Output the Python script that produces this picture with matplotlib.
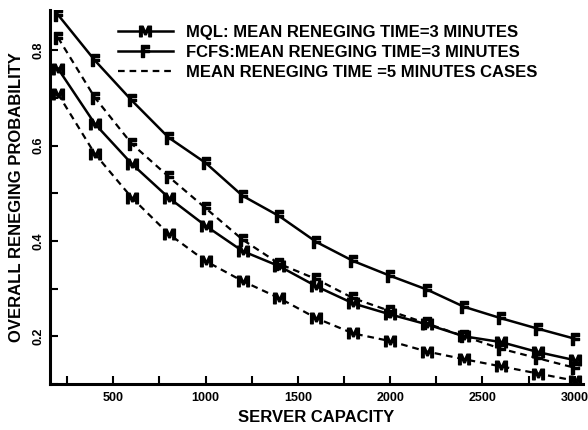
import numpy as np
import matplotlib.pyplot as plt
from matplotlib.lines import Line2D
from matplotlib.ticker import MultipleLocator

# server capacity values on the x axis
capacity = [200, 400, 600, 800, 1000, 1200, 1400, 1600, 1800, 2000,
            2200, 2400, 2600, 2800, 3000]

# overall reneging probability, mean reneging time = 3 minutes
mql_3 = [0.762, 0.646, 0.562, 0.491, 0.432, 0.379, 0.347, 0.305, 0.269, 0.246,
         0.225, 0.200, 0.188, 0.167, 0.150]
fcfs_3 = [0.875, 0.779, 0.695, 0.617, 0.564, 0.495, 0.452, 0.398, 0.358, 0.327,
          0.298, 0.262, 0.238, 0.216, 0.195]

# mean reneging time = 5 minutes
mql_5 = [0.709, 0.583, 0.491, 0.415, 0.358, 0.316, 0.280, 0.238, 0.206, 0.190,
         0.168, 0.152, 0.137, 0.122, 0.107]
fcfs_5 = [0.827, 0.701, 0.604, 0.535, 0.469, 0.403, 0.352, 0.320, 0.280, 0.253,
          0.227, 0.200, 0.174, 0.154, 0.134]

legend_labels = ['MQL: MEAN RENEGING TIME=3 MINUTES',
                 'FCFS:MEAN RENEGING TIME=3 MINUTES',
                 'MEAN RENEGING TIME =5 MINUTES CASES']

plt.rcParams['font.family'] = ['Liberation Sans', 'DejaVu Sans']
plt.rcParams['font.weight'] = 'bold'

fig = plt.figure(figsize=(5.88, 4.30), dpi=100)
ax = fig.add_axes([0.085, 0.107, 0.906, 0.870])

m_mark = r'$\mathbf{M}$'
f_mark = r'$\mathbf{F}$'
dash = (0, (3.0, 2.2))

l1, = ax.plot(capacity, mql_3, color='black', lw=1.8, marker=m_mark, ms=8.5)
l2, = ax.plot(capacity, fcfs_3, color='black', lw=1.8, marker=f_mark, ms=8)
ax.plot(capacity, fcfs_5, color='black', lw=1.6, linestyle=dash, marker=f_mark, ms=8)
ax.plot(capacity, mql_5, color='black', lw=1.6, linestyle=dash, marker=m_mark, ms=8.5)
l3 = Line2D([], [], color='black', lw=1.6, linestyle=dash)

ax.set_xlim(157, 3043)
ax.set_ylim(0.1, 0.885)

ax.xaxis.set_minor_locator(MultipleLocator(250))
ax.yaxis.set_minor_locator(MultipleLocator(0.1))
ax.set_xticks([500, 1000, 1500, 2000, 2500, 3000])
ax.set_yticks([0.2, 0.4, 0.6, 0.8])
ax.set_yticklabels(['0.2', '0.4', '0.6', '0.8'], rotation=90, va='center')

ax.tick_params(which='both', direction='in', length=6, width=1.5, labelsize=9)
ax.tick_params(axis='y', pad=4)
ax.tick_params(axis='x', pad=6)

for s in ['top', 'right']:
    ax.spines[s].set_visible(False)
for s in ['left', 'bottom']:
    ax.spines[s].set_linewidth(2.2)

ax.set_xlabel('SERVER CAPACITY', fontsize=12, fontweight='bold', labelpad=4)
ax.set_ylabel('OVERALL RENEGING PROBABILITY', fontsize=12, fontweight='bold', labelpad=6)

ax.legend([l1, l2, l3], legend_labels, loc='upper left', bbox_to_anchor=(0.115, 0.977),
          frameon=False, numpoints=1, handlelength=3.3, handletextpad=0.8,
          labelspacing=0.3, borderaxespad=0.0, prop={'size': 12, 'weight': 'bold'})

plt.savefig('out.png', dpi=100)
